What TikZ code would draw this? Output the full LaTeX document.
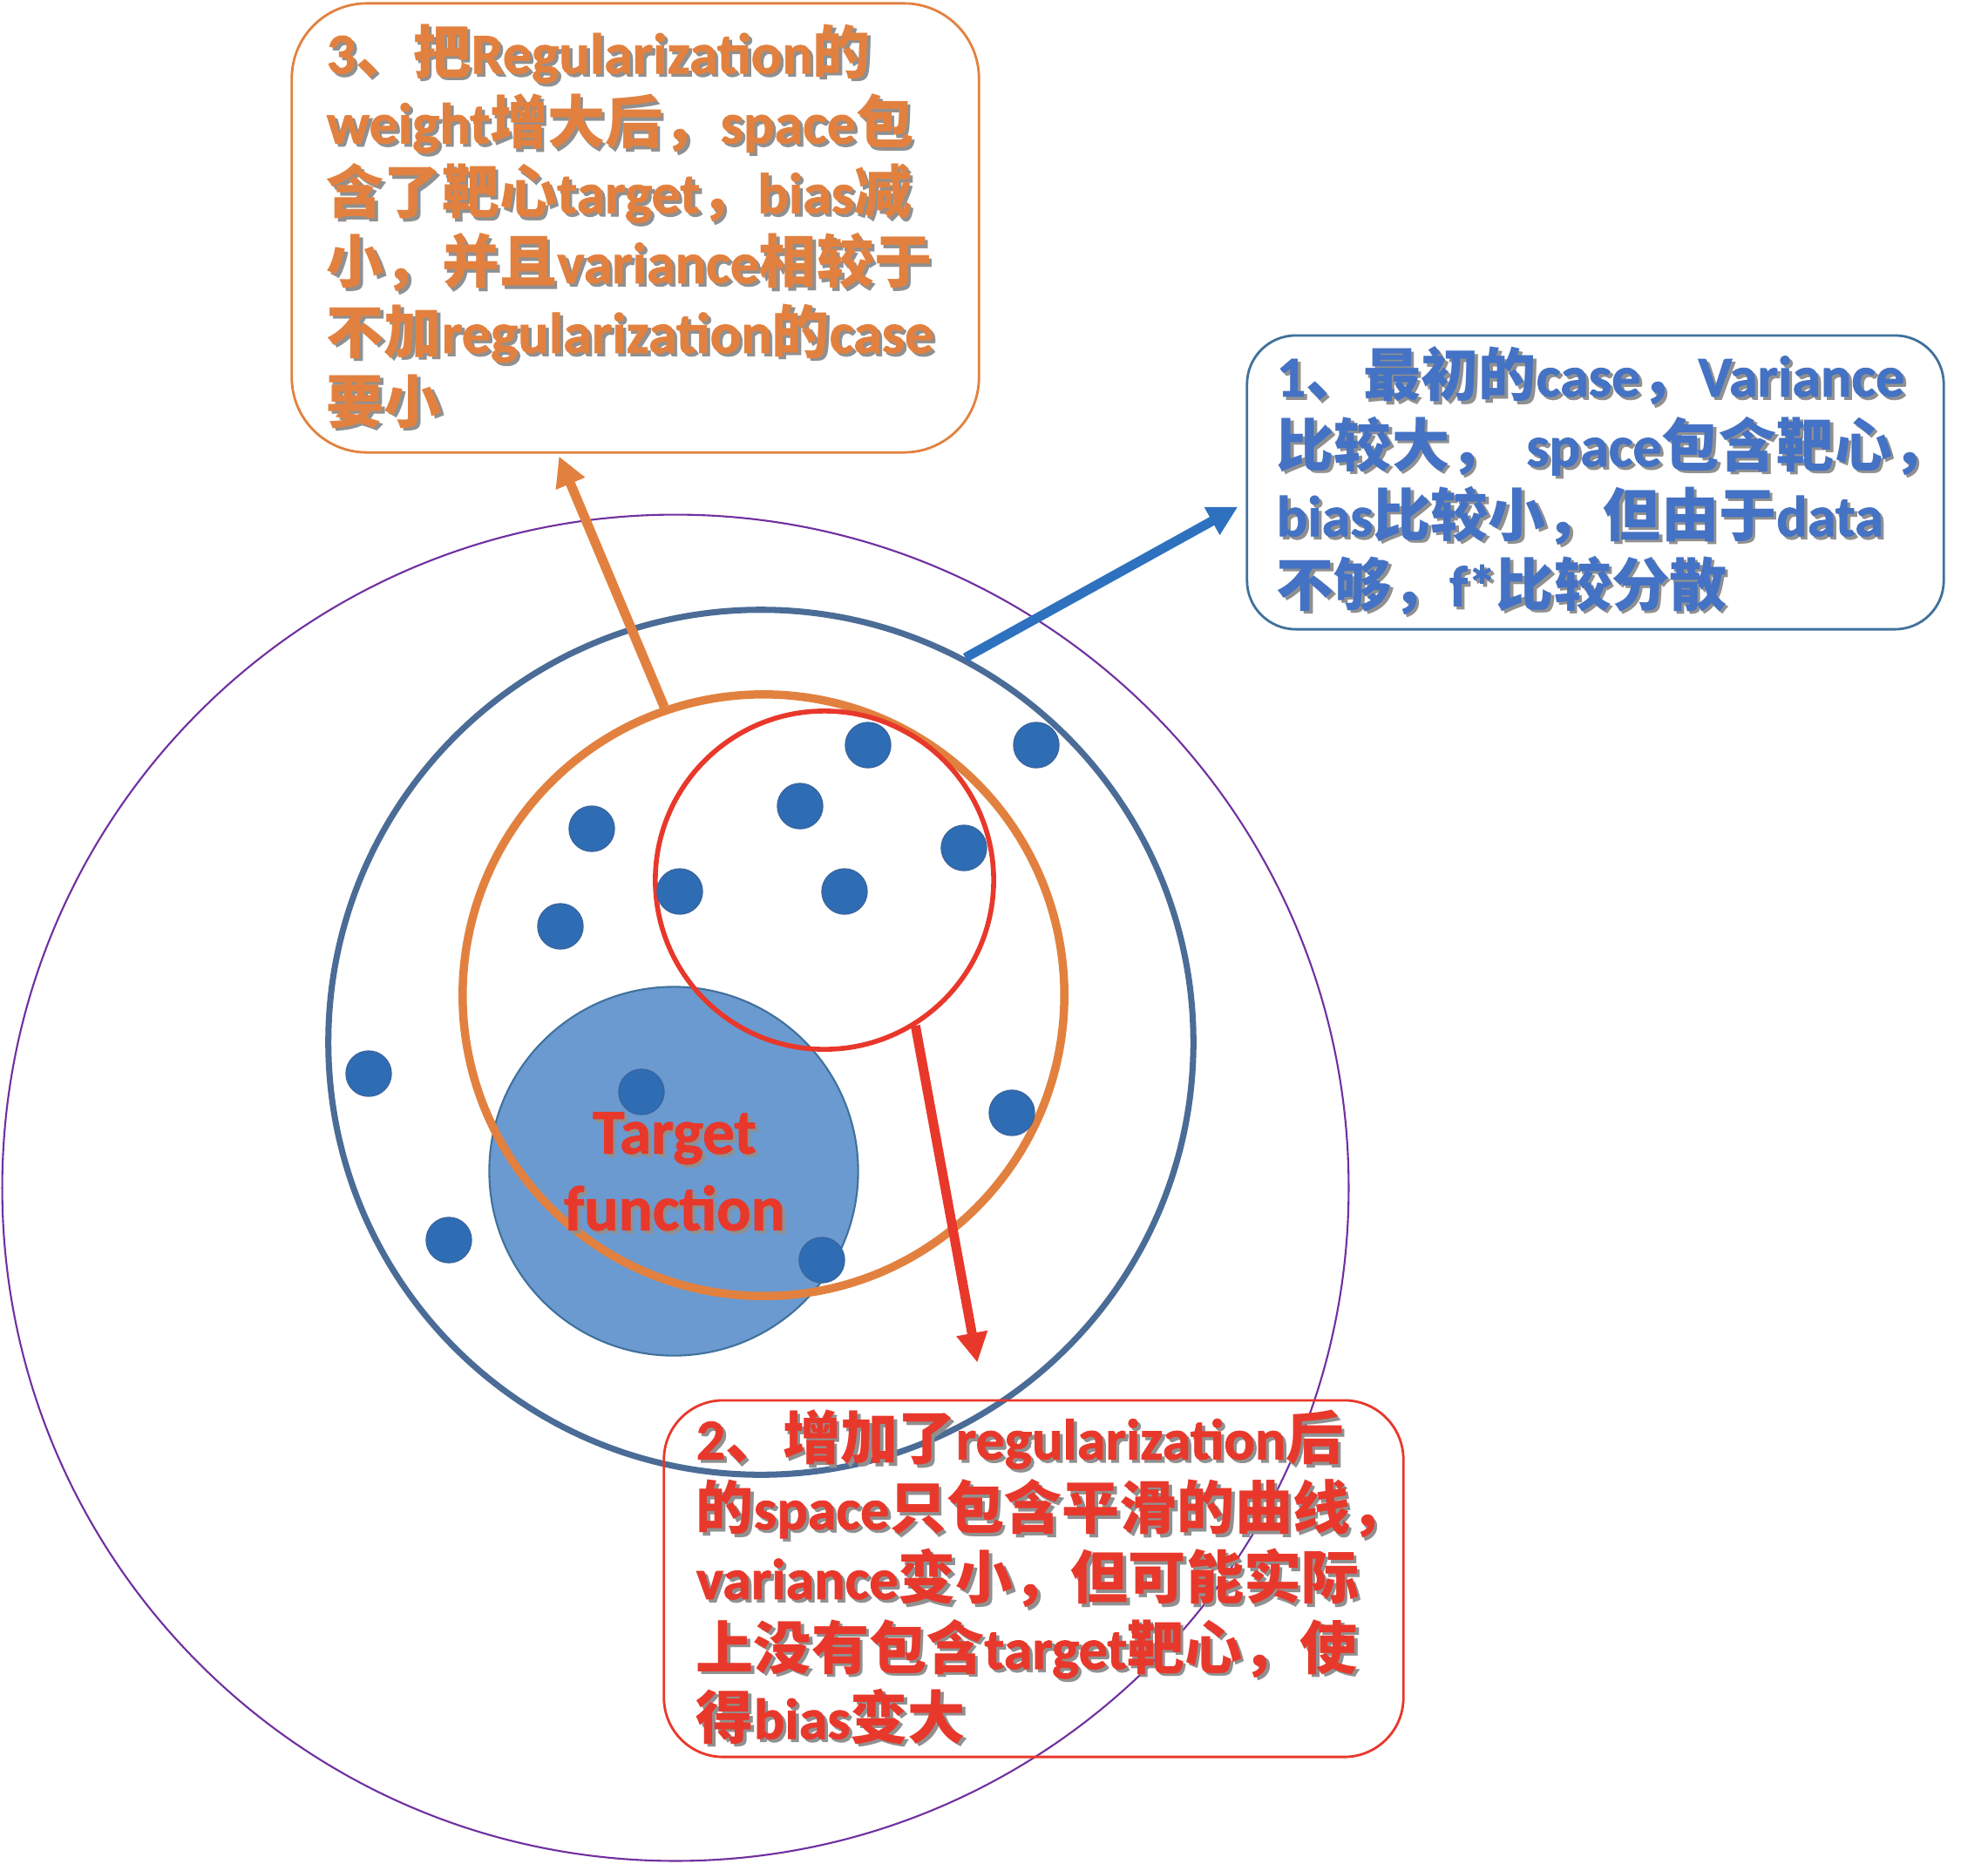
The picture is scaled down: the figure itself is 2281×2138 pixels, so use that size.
\documentclass[tikz,border=0pt]{standalone}
\usepackage{fontspec}
\setmainfont{Carlito}[BoldFont={Carlito Bold}, BoldFeatures={FakeBold=1.2}]
\newfontfamily\cjkfont{Noto Sans CJK SC}
\usetikzlibrary{arrows.meta,calc}
\definecolor{purplec}{HTML}{7030A0}
\definecolor{navyc}{HTML}{4A6C96}
\definecolor{orangec}{HTML}{E2813F}
\definecolor{redc}{HTML}{E8382B}
\definecolor{bluetext}{HTML}{4472C4}
\definecolor{blueframe}{HTML}{41719C}
\definecolor{dotfill}{HTML}{2E6DB4}
\definecolor{dotline}{HTML}{3A65A0}
\definecolor{targetfill}{HTML}{6A9AD0}
\definecolor{bluearrow}{HTML}{2E71BE}
\definecolor{shadowc}{HTML}{909090}
\newcommand\zh[1]{{\cjkfont\bfseries #1}}
\newcommand\shline[1]{\makebox[0pt][l]{\kern1pt\raisebox{-1pt}{\color{shadowc}#1}}#1}
\tikzset{
  ring/.style={circle, inner sep=0pt},
  datadot/.style={circle, inner sep=0pt, minimum size=0.52cm, fill=dotfill, draw=dotline, line width=0.4pt},
  notebox/.style={rectangle, align=left, inner ysep=0pt, line width=0.8pt,
    font=\fontsize{18.8}{22.8}\selectfont\bfseries},
  pointer/.style={line width=3.1pt, -{Triangle[length=0.34cm,width=0.34cm]}}
}
\begin{document}
\begin{tikzpicture}[x=0.01cm, y=-0.01cm]
\useasboundingbox (0,0) rectangle (2281,2138);
% circles
\node[ring, draw=purplec, line width=0.6pt, minimum size=15.44cm] (outer) at (775,1363) {};
\node[ring, fill=targetfill, draw=blueframe, line width=0.6pt, minimum size=4.23cm] (target) at (773,1344) {};
\node[ring, draw=navyc, line width=2pt, minimum size=9.92cm] (navy) at (873,1196) {};
\node[ring, draw=orangec, line width=2.7pt, minimum size=6.9cm] (oring) at (876,1142) {};
\node[ring, draw=redc, line width=1.6pt, minimum size=3.88cm] (rring) at (946,1010) {};
% data points
\node[datadot] (d1) at (996,855) {};
\node[datadot] (d2) at (1189,855) {};
\node[datadot] (d3) at (918,925) {};
\node[datadot] (d4) at (679,951) {};
\node[datadot] (d5) at (1106,973) {};
\node[datadot] (d6) at (780,1023) {};
\node[datadot] (d7) at (969,1023) {};
\node[datadot] (d8) at (643,1063) {};
\node[datadot] (d9) at (423,1232) {};
\node[datadot] (d10) at (736,1253) {};
\node[datadot] (d11) at (1161,1277) {};
\node[datadot] (d12) at (515,1423) {};
\node[datadot] (d13) at (943,1446) {};
% target label
\node[align=center, text=redc, inner sep=0pt, font=\fontsize{20.8}{25}\selectfont\bfseries] (tlabel) at (774,1346)
  {\shline{Target}\\\shline{function}};
% boxes
\node[notebox, draw=orangec, text=orangec, rounded corners=0.86cm, minimum width=7.88cm, minimum height=5.15cm,
  text width=7.08cm, inner xsep=0.4cm] (box3) at (729,261.5)
  {\shline{3\zh{、把}Regularization\zh{的}}\\
   \shline{weight\zh{增大后，}space\zh{包}}\\
   \shline{\zh{含了靶心}target\zh{，}bias\zh{减}}\\
   \shline{\zh{小，并且}variance\zh{相较于}}\\
   \shline{\zh{不加}regularization\zh{的}case}\\
   \shline{\zh{要小}}};
\node[notebox, draw=blueframe, text=bluetext, rounded corners=0.56cm, minimum width=7.99cm, minimum height=3.37cm,
  text width=7.31cm, inner xsep=0.34cm] (box1) at (1830.5,553.5)
  {\shline{1\zh{、最初的}case\zh{，}Variance}\\
   \shline{\zh{比较大，}~space\zh{包含靶心，}}\\
   \shline{bias\zh{比较小，但由于}data}\\
   \shline{\zh{不够，}f*\zh{比较分散}}};
\node[notebox, draw=redc, text=redc, rounded corners=0.68cm, minimum width=8.48cm, minimum height=4.09cm,
  text width=7.74cm, inner xsep=0.37cm] (box2) at (1186,1811.5)
  {\shline{2\zh{、增加了}regularization\zh{后}}\\
   \shline{\zh{的}space\zh{只包含平滑的曲线，}}\\
   \shline{variance\zh{变小，但可能实际}}\\
   \shline{\zh{上没有包含}target\zh{靶心，使}}\\
   \shline{\zh{得}bias\zh{变大}}};
% arrows
\draw[pointer, orangec] (oring.109) -- ($(box3.south west)+(308,3)$);
\draw[pointer, bluearrow] (navy.62) -- ($(box1.west)+(-9,28)$);
\draw[pointer, redc] (rring.-58) -- ($(box2.north west)+(361,-42)$);
\end{tikzpicture}
\end{document}
